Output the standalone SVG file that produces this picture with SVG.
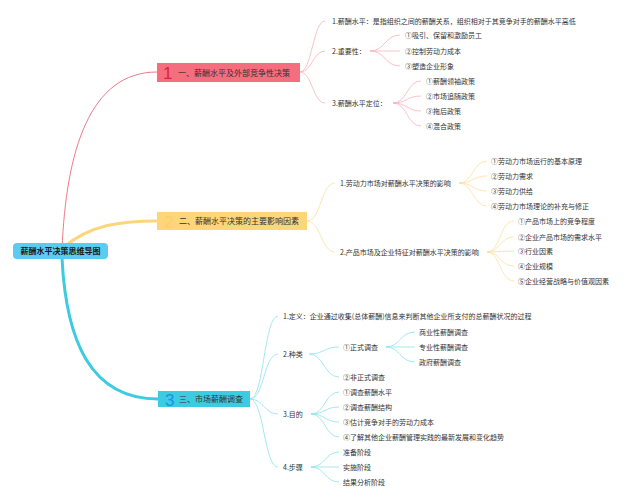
<svg xmlns="http://www.w3.org/2000/svg" width="640" height="502" viewBox="0 0 640 502">
<style>
text{font-family:"Noto Sans CJK SC","Noto Sans",sans-serif;fill:#333}
.leaf{font-size:7px}
.node{font-size:8px}
.roott{font-size:8px;font-weight:bold;fill:#1a1a1a}
.num{font-family:"Liberation Sans",sans-serif;font-size:17px}
.d1{fill:#dc2340}
.d2{fill:#fbd06a}
.d3{fill:#1f8fe6}
.c1{fill:none;stroke:#f6b3bc;stroke-width:0.8}
.c2{fill:none;stroke:#fbe1a0;stroke-width:0.8}
.c3{fill:none;stroke:#8ee2ec;stroke-width:0.8}
</style>
<rect width="640" height="502" fill="#fff"/>
<g id="connectors">
<path d="M62,250 C66,150 90,72 157,72" fill="none" stroke="#f07a8a" stroke-width="1"/>
<path d="M64,247 C90,225 120,221 157,221" fill="none" stroke="#fcd67c" stroke-width="3"/>
<path d="M62,258 C66,340 90,399 158,399" fill="none" stroke="#3ccbe0" stroke-width="3"/>
<path class="c1" d="M300,72 C312,72 313,21 325,21 M300,72 C312,72 313,51 325,51 M300,72 C312,72 313,103 325,103"/>
<path class="c1" d="M370,51 C385,51 385,35 400,35 M370,51 L400,51 M370,51 C385,51 385,66 400,66"/>
<path class="c1" d="M393,103 C407,103 407,81 421,81 M393,103 C407,103 407,96 421,96 M393,103 C407,103 407,111 421,111 M393,103 C407,103 407,126 421,126"/>
<path class="c2" d="M307,221 C321,221 321,183 335,183 M307,221 C321,221 321,252 335,252"/>
<path class="c2" d="M459,183 C473,183 473,161 487,161 M459,183 C473,183 473,176 487,176 M459,183 C473,183 473,191 487,191 M459,183 C473,183 473,206 487,206"/>
<path class="c2" d="M487,252 C500,252 500,221 514,221 M487,252 C500,252 500,237 514,237 M487,252 L514,251 M487,252 C500,252 500,266 514,266 M487,252 C500,252 500,281 514,281"/>
<path class="c3" d="M250,399 C264,399 264,316 278,316 M250,399 C264,399 264,354 278,354 M250,399 C264,399 264,414 278,414 M250,399 C264,399 264,467 278,467"/>
<path class="c3" d="M309,354 C324,354 324,347 339,347 M309,354 C324,354 324,377 339,377"/>
<path class="c3" d="M386,347 C400,347 400,332 415,332 M386,347 L415,347 M386,347 C400,347 400,362 415,362"/>
<path class="c3" d="M311,414 C325,414 325,392 339,392 M311,414 C325,414 325,407 339,407 M311,414 C325,414 325,422 339,422 M311,414 C325,414 325,437 339,437"/>
<path class="c3" d="M311,467 C325,467 325,452 339,452 M311,467 L339,467 M311,467 C325,467 325,482 339,482"/>
</g>
<g id="root">
<rect x="13" y="243" width="95" height="16" rx="4" fill="#5ccbf0"/>
<text class="roott" x="60.5" y="254" text-anchor="middle">薪酬水平决策思维导图</text>
</g>
<g id="n1">
<rect x="157" y="63" width="143" height="19" fill="#f46e7e"/>
<text class="num d1" x="163" y="79">1</text>
<text class="node" x="178" y="75.5">一、薪酬水平及外部竞争性决策</text>
</g>
<g id="n1a"><text class="leaf" x="332" y="23.5">1.薪酬水平：是指组织之间的薪酬关系，组织相对于其竞争对手的薪酬水平高低</text></g>
<g id="n1b"><text class="leaf" x="332" y="53.5">2.重要性：</text></g>
<g id="n1b1"><text class="leaf" x="405" y="37.5">①吸引、保留和激励员工</text></g>
<g id="n1b2"><text class="leaf" x="405" y="53.5">②控制劳动力成本</text></g>
<g id="n1b3"><text class="leaf" x="405" y="68.5">③塑造企业形象</text></g>
<g id="n1c"><text class="leaf" x="332" y="105.5">3.薪酬水平定位：</text></g>
<g id="n1c1"><text class="leaf" x="426" y="83.5">①薪酬领袖政策</text></g>
<g id="n1c2"><text class="leaf" x="426" y="98.5">②市场追随政策</text></g>
<g id="n1c3"><text class="leaf" x="426" y="113.5">③拖后政策</text></g>
<g id="n1c4"><text class="leaf" x="426" y="128.5">④混合政策</text></g>
<g id="n2">
<rect x="157" y="212" width="150" height="18" fill="#fdd67a"/>
<text class="num d2" x="164" y="228">2</text>
<text class="node" x="179" y="224">二、薪酬水平决策的主要影响因素</text>
</g>
<g id="n2a"><text class="leaf" x="340" y="185.5">1.劳动力市场对薪酬水平决策的影响</text></g>
<g id="n2a1"><text class="leaf" x="491" y="163.5">①劳动力市场运行的基本原理</text></g>
<g id="n2a2"><text class="leaf" x="491" y="178.5">②劳动力需求</text></g>
<g id="n2a3"><text class="leaf" x="491" y="193.5">③劳动力供给</text></g>
<g id="n2a4"><text class="leaf" x="491" y="208.5">④劳动力市场理论的补充与修正</text></g>
<g id="n2b"><text class="leaf" x="340" y="254.5">2.产品市场及企业特征对薪酬水平决策的影响</text></g>
<g id="n2b1"><text class="leaf" x="518" y="223.5">①产品市场上的竞争程度</text></g>
<g id="n2b2"><text class="leaf" x="518" y="239.5">②企业产品市场的需求水平</text></g>
<g id="n2b3"><text class="leaf" x="518" y="253.5">③行业因素</text></g>
<g id="n2b4"><text class="leaf" x="518" y="268.5">④企业规模</text></g>
<g id="n2b5"><text class="leaf" x="518" y="283.5">⑤企业经营战略与价值观因素</text></g>
<g id="n3">
<rect x="158" y="391" width="92" height="16" fill="#3ccbe0"/>
<text class="num d3" x="165" y="405.5">3</text>
<text class="node" x="179" y="402">三、市场薪酬调查</text>
</g>
<g id="n3a"><text class="leaf" x="283" y="318.5">1.定义：企业通过收集(总体薪酬)信息来判断其他企业所支付的总薪酬状况的过程</text></g>
<g id="n3b"><text class="leaf" x="283" y="356.5">2.种类</text></g>
<g id="n3b1"><text class="leaf" x="343" y="349.5">①正式调查</text></g>
<g id="n3b1a"><text class="leaf" x="419" y="334.5">商业性薪酬调查</text></g>
<g id="n3b1b"><text class="leaf" x="419" y="349.5">专业性薪酬调查</text></g>
<g id="n3b1c"><text class="leaf" x="419" y="364.5">政府薪酬调查</text></g>
<g id="n3b2"><text class="leaf" x="343" y="379.5">②非正式调查</text></g>
<g id="n3c"><text class="leaf" x="283" y="416.5">3.目的</text></g>
<g id="n3c1"><text class="leaf" x="343" y="394.5">①调查薪酬水平</text></g>
<g id="n3c2"><text class="leaf" x="343" y="409.5">②调查薪酬结构</text></g>
<g id="n3c3"><text class="leaf" x="343" y="424.5">③估计竞争对手的劳动力成本</text></g>
<g id="n3c4"><text class="leaf" x="343" y="439.5">④了解其他企业薪酬管理实践的最新发展和变化趋势</text></g>
<g id="n3d"><text class="leaf" x="283" y="469.5">4.步骤</text></g>
<g id="n3d1"><text class="leaf" x="343" y="454.5">准备阶段</text></g>
<g id="n3d2"><text class="leaf" x="343" y="469.5">实施阶段</text></g>
<g id="n3d3"><text class="leaf" x="343" y="484.5">结果分析阶段</text></g>
</svg>
